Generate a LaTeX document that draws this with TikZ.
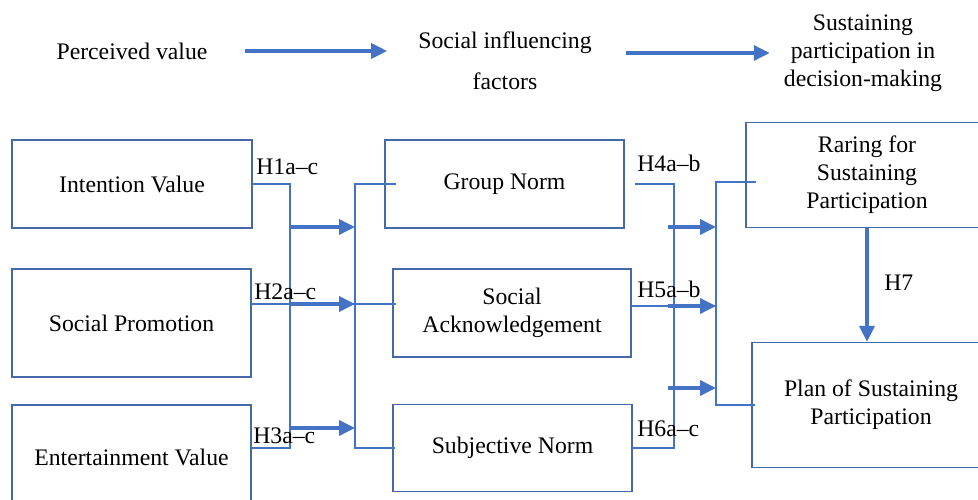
\documentclass[tikz,border=0pt]{standalone}
\usepackage{fontspec}
\setmainfont{Liberation Serif}
\usepackage{xcolor}
\usetikzlibrary{arrows.meta}
\definecolor{boxcol}{RGB}{70,105,170}
\definecolor{linkcol}{RGB}{68,114,196}

\begin{document}
\begin{tikzpicture}[x=0.02cm,y=-0.02cm]
\tikzset{every node/.style={font=\fontsize{13.5}{15.9}\selectfont},
	box/.style={draw=boxcol, line width=0.7pt, align=center},
	link/.style={draw=linkcol, line width=0.8pt},
	arr/.style={draw=linkcol, line width=2pt, -{Triangle[length=0.32cm,width=0.3cm]}},
	lbl/.style={inner sep=0pt, anchor=west}}
\useasboundingbox (0,0) rectangle (978,500);

% top line
\node (pv) at (132,51) {Perceived value};
\node[align=center] (sif) at (505,61) {Social influencing\\[7.4pt]factors};
\node[align=center] (spd) at (863,53) {Sustaining\\participation in\\decision-making};
\draw[arr, shorten <=0.62cm, shorten >=0.5cm] (pv.east) -- (pv.east -| sif.west);
\draw[arr, shorten <=0.56cm, shorten >=0.16cm] (sif.east |- spd.west) -- (spd.west);

% boxes
\node[box, minimum width=4.8cm, minimum height=1.76cm] (iv) at (132,184) {Intention Value};
\node[box, minimum width=4.78cm, minimum height=2.16cm] (sp) at (131.5,323) {Social Promotion};
\node[box, minimum width=4.78cm, minimum height=2.08cm] (ev) at (131.5,457) {Entertainment Value};
\node[box, minimum width=4.78cm, minimum height=1.76cm] (gn) at (504.5,184) {Group Norm};
\node[box, minimum width=4.76cm, minimum height=1.76cm] (sa) at (512,313) {Social\\Acknowledgement};
\node[box, minimum width=4.78cm, minimum height=1.74cm] (sn) at (512.5,448) {Subjective Norm};
\node[box, minimum width=4.84cm, minimum height=2.1cm] (rf) at (867,175) {Raring for\\Sustaining\\Participation};
\node[box, minimum width=4.76cm, minimum height=2.5cm] (pl) at (871,405) {Plan of Sustaining\\Participation};

% perceived value -> social factors
\coordinate (l1) at (290,184);
\coordinate (l3) at (290,448);
\coordinate (r1) at (355,184);
\coordinate (r2) at (355,304);
\draw[link] (iv.east) -- (l1) -- (l3) -- (ev.east |- l3);
\draw[link] (sp.east |- r2) -- (sa.west |- r2) -- ++(4,0);
\draw[link] ([xshift=0.24cm]gn.west) -- (r1) -- (r1 |- sn.west) -- ([xshift=0.06cm]sn.west);
\foreach \n/\y in {a/227,b/304,c/428}
{
	\coordinate (la\n) at (290,\y);
	\draw[arr] (la\n) -- (la\n -| r1);
}

% social factors -> participation
\coordinate (m1) at (674,184);
\coordinate (n1) at (716,182);
\coordinate (n2) at (716,306);
\draw[link] ([xshift=0.2cm]gn.east) -- (m1) -- (m1 |- sn.east) -- (sn.east);
\draw[link] (sa.east |- n2) -- (n2);
\draw[link] (pl.west) ++(4,0) -- (pl.west -| n1) -- (n1) -- (rf.west |- n1) -- ++(11,0);
\foreach \n/\y in {a/227,b/306,c/388}
{
	\coordinate (ma\n) at (668,\y);
	\draw[arr] (ma\n) -- (ma\n -| n1);
}
\draw[arr] (rf.south) -- (rf.south |- pl.north);

% hypotheses
\node[lbl] (h1) at (256,167) {H1a–c};
\node[lbl] (h2) at (254,292) {H2a–c};
\node[lbl] (h3) at (253,436) {H3a–c};
\node[lbl] (h4) at (637,163) {H4a–b};
\node[lbl] (h5) at (637,289) {H5a–b};
\node[lbl] (h6) at (637,429) {H6a–c};
\node[lbl] (h7) at (884,283) {H7};
\end{tikzpicture}
\end{document}
